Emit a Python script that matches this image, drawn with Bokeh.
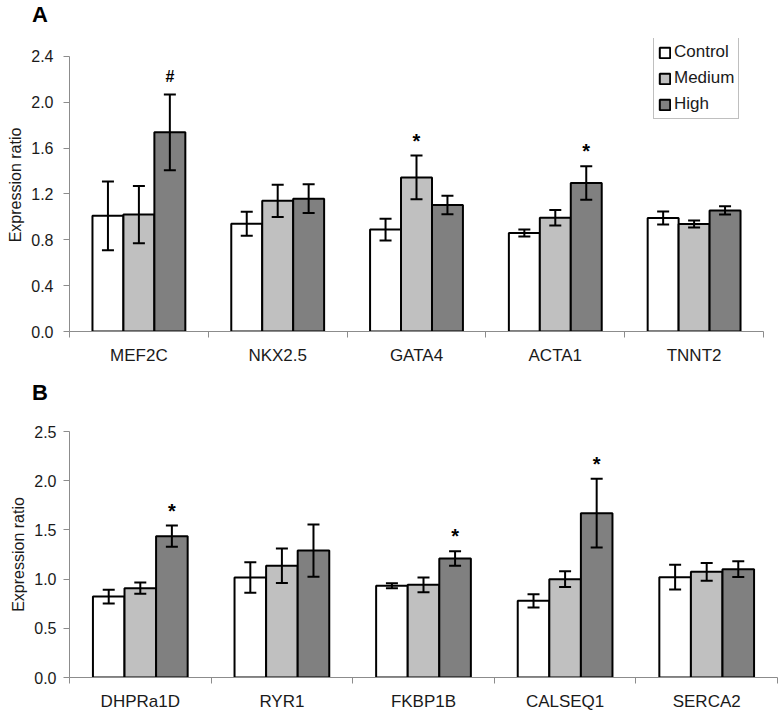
import numpy as np
from bokeh.plotting import figure
from bokeh.models import (ColumnDataSource, FixedTicker, Whisker, TeeHead, Legend,
                          LegendItem, PrintfTickFormatter, Range1d, Title, Div)
from bokeh.layouts import column
from bokeh.embed import file_html
from bokeh.resources import INLINE

# ---------------- data (panel A) ----------------
genes_A = ["MEF2C", "NKX2.5", "GATA4", "ACTA1", "TNNT2"]
control_A = [1.01, 0.94, 0.89, 0.86, 0.99]
control_A_err = [0.30, 0.105, 0.095, 0.03, 0.057]
medium_A = [1.02, 1.14, 1.345, 0.993, 0.938]
medium_A_err = [0.25, 0.14, 0.19, 0.067, 0.03]
high_A = [1.738, 1.159, 1.104, 1.296, 1.057]
high_A_err = [0.33, 0.125, 0.08, 0.147, 0.035]
sig_control_A = ["", "", "", "", ""]
sig_medium_A = ["", "", "*", "", ""]
sig_high_A = ["#", "", "", "*", ""]
yticks_A = [0.0, 0.4, 0.8, 1.2, 1.6, 2.0, 2.4]

# ---------------- data (panel B) ----------------
genes_B = ["DHPRa1D", "RYR1", "FKBP1B", "CALSEQ1", "SERCA2"]
control_B = [0.823, 1.016, 0.932, 0.779, 1.02]
control_B_err = [0.07, 0.155, 0.025, 0.068, 0.125]
medium_B = [0.908, 1.135, 0.942, 0.999, 1.074]
medium_B_err = [0.057, 0.175, 0.075, 0.08, 0.09]
high_B = [1.436, 1.29, 1.209, 1.67, 1.101]
high_B_err = [0.108, 0.265, 0.073, 0.35, 0.08]
sig_control_B = ["", "", "", "", ""]
sig_medium_B = ["", "", "", "", ""]
sig_high_B = ["*", "", "*", "*", ""]
yticks_B = [0.0, 0.5, 1.0, 1.5, 2.0, 2.5]

series = ["Control", "Medium", "High"]
colors = ["#ffffff", "#c0c0c0", "#808080"]
y_title = "Expression ratio"
panel_letters = ["A", "B"]

FONT = "Liberation Sans"
AXIS_GRAY = "#8c8c8c"
BW = 0.223


def letter_div(letter, height, top, left):
    html = ('<div style="position:relative; top:%dpx; left:%dpx; '
            'font-family:\'Liberation Sans\', Arial, sans-serif; font-weight:bold; '
            'font-size:22px; line-height:22px; color:black; margin:0; padding:0;">%s</div>'
            % (top, left, letter))
    return Div(text=html, width=120, height=height, margin=(0, 0, 0, 0))


def make_panel(genes, vals, errs, sigs, yticks, y_end, geom, legend_loc=None):
    ml, fw, mr, mt, fh, mb, ystand, yt_off, yt_stand = geom
    n = len(genes)
    centers = np.arange(n) + 0.5
    p = figure(frame_width=fw, frame_height=fh,
               min_border_left=ml, min_border_right=mr,
               min_border_top=mt, min_border_bottom=mb,
               x_range=Range1d(0, n), y_range=Range1d(0, y_end),
               output_backend="svg", toolbar_location=None)
    p.outline_line_color = None
    p.xgrid.visible = False
    p.ygrid.visible = False
    p.background_fill_color = "white"
    p.border_fill_color = "white"

    xa = p.xaxis[0]
    xa.ticker = FixedTicker(ticks=[float(c) for c in centers],
                            minor_ticks=[float(i) for i in range(n + 1)])
    xa.major_label_overrides = {float(c): g for c, g in zip(centers, genes)}
    xa.major_tick_line_color = None
    xa.major_tick_out = 0
    xa.major_tick_in = 0
    xa.minor_tick_out = 6
    xa.minor_tick_in = 0
    xa.minor_tick_line_color = AXIS_GRAY
    xa.axis_line_color = AXIS_GRAY
    xa.major_label_standoff = 8
    xa.major_label_text_font = FONT
    xa.major_label_text_font_size = "17px"
    xa.major_label_text_color = "#1a1a1a"

    ya = p.yaxis[0]
    ya.ticker = FixedTicker(ticks=yticks)
    ya.bounds = (yticks[0], yticks[-1])
    ya.formatter = PrintfTickFormatter(format="%.1f")
    ya.major_tick_out = 6
    ya.major_tick_in = 0
    ya.minor_tick_line_color = None
    ya.major_tick_line_color = AXIS_GRAY
    ya.axis_line_color = AXIS_GRAY
    ya.major_label_standoff = ystand
    ya.major_label_text_font = FONT
    ya.major_label_text_font_size = "16px"
    ya.major_label_text_color = "#1a1a1a"

    yt = Title(text=y_title, align="center", offset=yt_off, standoff=yt_stand,
               text_font=FONT, text_font_size="16px", text_font_style="normal",
               text_color="#1a1a1a")
    p.add_layout(yt, "left")

    offsets = [-BW, 0.0, BW]
    bar_renderers = []
    for s, col, v, e, sg, off in zip(series, colors, vals, errs, sigs, offsets):
        x = centers + off
        v = np.array(v)
        e = np.array(e)
        src = ColumnDataSource(dict(x=x, top=v, upper=v + e, lower=v - e, sig=sg))
        r = p.vbar(x="x", top="top", width=BW, bottom=0, source=src,
                   fill_color=col, line_color="black", line_width=2)
        bar_renderers.append(r)
        w = Whisker(source=src, base="x", upper="upper", lower="lower",
                    line_color="black", line_width=2, level="annotation",
                    upper_head=TeeHead(size=12, line_width=2, line_color="black"),
                    lower_head=TeeHead(size=12, line_width=2, line_color="black"))
        p.add_layout(w)
        for mark, fsize, yoff in (("#", "16px", -18), ("*", "20px", -15)):
            idx = [i for i, t in enumerate(sg) if t == mark]
            if idx:
                msrc = ColumnDataSource(dict(x=x[idx], y=(v + e)[idx],
                                             t=[mark] * len(idx)))
                p.text(x="x", y="y", text="t", source=msrc, text_align="center",
                       text_baseline="alphabetic", y_offset=yoff,
                       text_font_size=fsize, text_font_style="bold",
                       text_color="black", text_font={"value": FONT})

    if legend_loc is not None:
        items = [LegendItem(label=s, renderers=[r]) for s, r in zip(series, bar_renderers)]
        leg = Legend(items=items, location=legend_loc,
                     border_line_color="#808080", border_line_width=1,
                     background_fill_color="white", background_fill_alpha=1.0,
                     padding=4, spacing=6, margin=0,
                     glyph_width=13, glyph_height=13, label_standoff=3,
                     label_height=20,
                     label_text_font=FONT, label_text_font_size="17px",
                     label_text_color="#1a1a1a")
        p.add_layout(leg)
    return p


divA = letter_div(panel_letters[0], 30, 4, 32)
pA = make_panel(genes_A, [control_A, medium_A, high_A],
                [control_A_err, medium_A_err, high_A_err],
                [sig_control_A, sig_medium_A, sig_high_A], yticks_A, 2.557,
                (69, 694, 10, 8, 293, 37, 10, -8, 9),
                legend_loc=(584, 212))
divB = letter_div(panel_letters[1], 40, 14, 32)
pB = make_panel(genes_B, [control_B, medium_B, high_B],
                [control_B_err, medium_B_err, high_B_err],
                [sig_control_B, sig_medium_B, sig_high_B], yticks_B, 2.5,
                (65, 708, 6, 23, 246, 36, 7, 1, 9))

layout = column(divA, pA, divB, pB, spacing=0)
open("out.html", "w").write(file_html(layout, INLINE))
